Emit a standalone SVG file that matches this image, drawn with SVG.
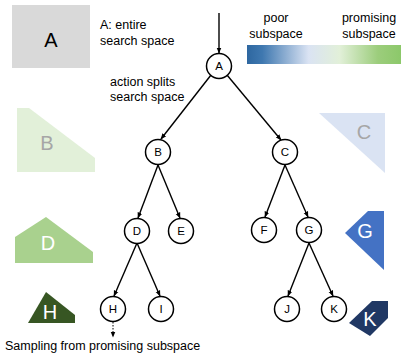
<svg xmlns="http://www.w3.org/2000/svg" width="401" height="354" viewBox="0 0 401 354">
<defs>
<linearGradient id="grad" x1="0" y1="0" x2="1" y2="0">
<stop offset="0" stop-color="#2e67a0"/>
<stop offset="0.1" stop-color="#3f78b0"/>
<stop offset="0.4" stop-color="#dae3f3"/>
<stop offset="0.6" stop-color="#e2f0d9"/>
<stop offset="0.85" stop-color="#9ccd7c"/>
<stop offset="1" stop-color="#8cc86a"/>
</linearGradient>
<marker id="arr" viewBox="0 0 10 10" refX="9" refY="5" markerWidth="6" markerHeight="6" orient="auto" markerUnits="userSpaceOnUse">
<path d="M0,1 L10,5 L0,9 Z" fill="#000"/>
</marker>
</defs>
<style>
text{font-family:"Liberation Sans",Arial,sans-serif;}
.lbl{font-size:12.5px;fill:#000;}
.node circle{fill:#fff;stroke:#000;stroke-width:1.5;}
.node text{font-size:11.5px;text-anchor:middle;fill:#000;}
.big{font-size:20px;text-anchor:middle;}
.edge{stroke:#000;stroke-width:1.4;fill:none;marker-end:url(#arr);}
</style>
<rect width="401" height="354" fill="#fff"/>

<!-- Legend shapes -->
<g id="shapeA"><rect x="12" y="5" width="78" height="63" fill="#d9d9d9"/><text class="big" x="51" y="47" fill="#000">A</text></g>
<g id="shapeB"><polygon points="17,108 29,108 95,158 95,172 17,172" fill="#e2f0d9"/><text class="big" x="47" y="150" fill="#a6a6a6">B</text></g>
<g id="shapeC"><polygon points="319,113 385,113 385,173" fill="#dae3f3"/><text class="big" x="364" y="139" fill="#a6a6a6">C</text></g>
<g id="shapeD"><polygon points="15,237 46,217 93,252 93,263 15,263" fill="#a9d18e"/><text class="big" x="48" y="250" fill="#fff">D</text></g>
<g id="shapeG"><polygon points="368,211 384,211 384,270 345,233" fill="#4472c4"/><text class="big" x="365" y="238" fill="#fff">G</text></g>
<g id="shapeH"><polygon points="46,292 75,315 75,323 28,323" fill="#375623"/><text class="big" x="50" y="319" fill="#fff">H</text></g>
<g id="shapeK"><polygon points="372,301 388,301 388,318 370,336 349,323" fill="#203864"/><text class="big" x="370" y="326" fill="#fff">K</text></g>

<!-- gradient bar -->
<g id="bar"><rect x="247" y="45" width="154" height="19" fill="url(#grad)"/></g>

<!-- labels -->
<text class="lbl" x="100" y="29">A: entire</text>
<text class="lbl" x="100" y="45">search space</text>
<text class="lbl" x="110" y="86">action splits</text>
<text class="lbl" x="110" y="101">search space</text>
<text class="lbl" x="276" y="22" text-anchor="middle">poor</text>
<text class="lbl" x="276" y="38" text-anchor="middle">subspace</text>
<text class="lbl" x="369" y="22" text-anchor="middle">promising</text>
<text class="lbl" x="369" y="38" text-anchor="middle">subspace</text>
<text class="lbl" x="5" y="350">Sampling from promising subspace</text>

<!-- connectors -->
<g id="connectors">
<line class="edge" x1="219" y1="13" x2="219" y2="53"/>
<line class="edge" x1="211" y1="75" x2="161" y2="139"/>
<line class="edge" x1="227" y1="75" x2="281" y2="140"/>
<line class="edge" x1="158" y1="165" x2="138" y2="218"/>
<line class="edge" x1="158" y1="165" x2="180" y2="218"/>
<line class="edge" x1="285" y1="165" x2="265" y2="217"/>
<line class="edge" x1="285" y1="165" x2="308" y2="217"/>
<line class="edge" x1="137" y1="243" x2="114" y2="296"/>
<line class="edge" x1="137" y1="243" x2="160" y2="296"/>
<line class="edge" x1="309" y1="243" x2="288" y2="296"/>
<line class="edge" x1="309" y1="243" x2="333" y2="296"/>
<line x1="113" y1="322" x2="113" y2="337" stroke="#000" stroke-width="1" stroke-dasharray="1.5,1.5" marker-end="url(#arr)"/>
</g>

<!-- nodes -->
<g id="A" class="node"><circle cx="219" cy="66" r="12.5"/><text x="219" y="70">A</text></g>
<g id="B" class="node"><circle cx="158" cy="152" r="12.5"/><text x="158" y="156">B</text></g>
<g id="C" class="node"><circle cx="285" cy="152" r="12.5"/><text x="285" y="156">C</text></g>
<g id="D" class="node"><circle cx="137" cy="231" r="12.5"/><text x="137" y="235">D</text></g>
<g id="E" class="node"><circle cx="181" cy="231" r="12.5"/><text x="181" y="235">E</text></g>
<g id="F" class="node"><circle cx="264" cy="230" r="12.5"/><text x="264" y="234">F</text></g>
<g id="G" class="node"><circle cx="309" cy="230" r="12.5"/><text x="309" y="234">G</text></g>
<g id="H" class="node"><circle cx="113" cy="309" r="12.5"/><text x="113" y="313">H</text></g>
<g id="I" class="node"><circle cx="161" cy="309" r="12.5"/><text x="161" y="313">I</text></g>
<g id="J" class="node"><circle cx="287" cy="309" r="12.5"/><text x="287" y="313">J</text></g>
<g id="K" class="node"><circle cx="334" cy="309" r="12.5"/><text x="334" y="313">K</text></g>
</svg>
